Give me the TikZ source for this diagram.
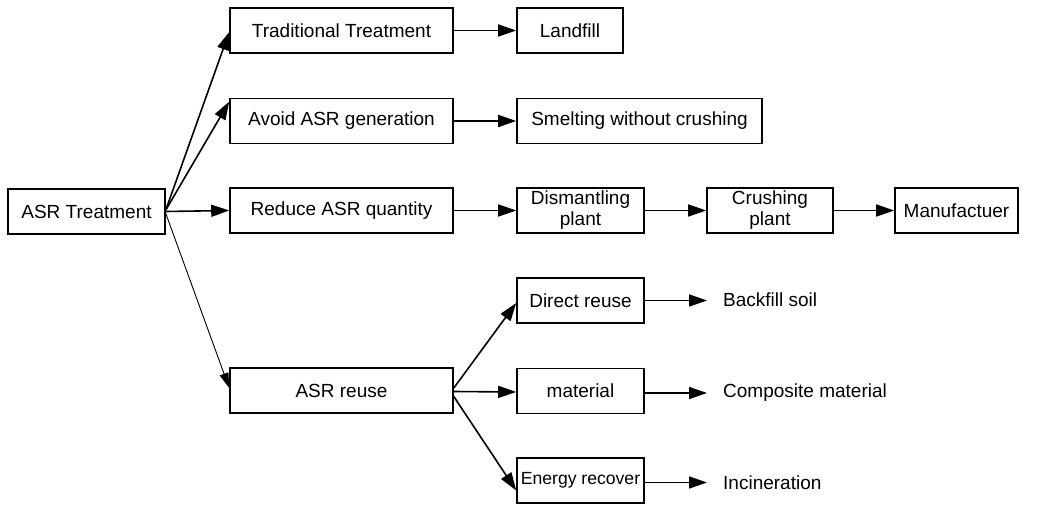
\documentclass[tikz,border=0pt]{standalone}
\usepackage{fontspec}
\setmainfont{Liberation Sans}
\usetikzlibrary{arrows.meta}
\begin{document}
\begin{tikzpicture}[x=1pt,y=-1pt,
  every node/.style={font=\fontsize{19}{21}\selectfont, inner sep=0pt},
  box/.style={draw, line width=1.6pt, minimum height=45pt, align=center},
  plain/.style={anchor=west},
  link/.style={line width=1.6pt, -{Triangle[length=18pt,width=12pt]}},
  thinlink/.style={line width=0.9pt, -{Triangle[length=15pt,width=9pt]}}]
\useasboundingbox (0,0) rectangle (1055,505);

% first column
\node[box, minimum width=157pt] (tre) at (86.5,211.5) {ASR Treatment};

% second column
\node[box, minimum width=223pt] (trad)   at (341.5,30.5)  {Traditional Treatment};
\node[box, minimum width=223pt] (avoid)  at (341.5,121)   {Avoid ASR generation};
\node[box, minimum width=223pt] (reduce) at (341.5,210.5) {Reduce ASR quantity};
\node[box, minimum width=223pt] (reuse)  at (341.5,390.5) {ASR reuse};

% third column
\node[box, minimum width=106pt] (land)   at (570,30.5)   {Landfill};
\node[box, minimum width=245pt] (smelt)  at (639.5,121)  {Smelting without crushing};
\node[box, minimum width=127pt] (dism)   at (580.5,210.5) {Dismantling\\plant};
\node[box, minimum width=127pt] (direct) at (580.5,300.5) {Direct reuse};
\node[box, minimum width=127pt] (mat)    at (580.5,391)  {material};
\node[box, minimum width=127pt, font=\fontsize{17.6}{21}\selectfont] (energy) at (580.5,480.5) {Energy recover};

% further steps
\node[box, minimum width=126pt] (crush) at (770,210.5)   {Crushing\\plant};
\node[box, minimum width=123pt] (manu)  at (956.5,210.5) {Manufactuer};

% end products
\node[plain] (soil) at (723,300) {Backfill soil};
\node[plain] (comp) at (723,393) {Composite material};
\node[plain] (inc)  at (723,483) {Incineration};

% branches from the root
\draw[link] ([yshift=1.5pt]tre.east) -- ([yshift=-1.5pt]trad.west);
\draw[link] ([yshift=1.5pt]tre.east) -- ([yshift=-4pt]avoid.north west);
\draw[link] (tre.east) -- (reduce.west);
\draw[thinlink] ([yshift=-2pt]tre.east) -- ([yshift=2.5pt]reuse.west);

% chains
\draw[link] (trad.east) -- (land.west);
\draw[link] (avoid.east) -- (smelt.west);
\draw[link] (reduce.east) -- (dism.west);
\draw[link] (dism.east) -- (crush.west);
\draw[link] (crush.east) -- (manu.west);

% reuse branches
\draw[link] ([yshift=2.5pt]reuse.east) -- ([yshift=-2.5pt]direct.west);
\draw[link] ([yshift=-1pt]reuse.east) -- ([yshift=-1pt]mat.west);
\draw[link] ([yshift=-6pt]reuse.east) -- ([yshift=-10pt]energy.west);

% to end products
\draw[link, shorten >=16pt] (direct.east) -- (direct.east -| soil.west);
\draw[link, shorten >=16pt] ([yshift=-2pt]mat.east) -- ([yshift=-2pt]mat.east -| comp.west);
\draw[link, shorten >=16pt] ([yshift=-2pt]energy.east) -- ([yshift=-2pt]energy.east -| inc.west);
\end{tikzpicture}
\end{document}
